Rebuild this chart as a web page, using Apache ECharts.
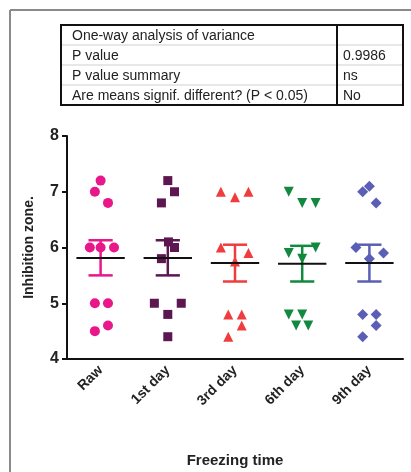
<!DOCTYPE html>
<html>
<head>
<meta charset="utf-8">
<script src="https://cdn.jsdelivr.net/npm/echarts@6/dist/echarts.min.js"></script>
<style>
  html, body { margin: 0; padding: 0; background: #fff; }
  #main { width: 411px; height: 472px; }
</style>
</head>
<body>
<div id="main"></div>
<script>
var categories = ['Raw', '1st day', '3rd day', '6th day', '9th day'];
var colors = ['#e8188a', '#5c1650', '#f03c3c', '#12893e', '#5a5fb5'];
var symbols = ['circle', 'rect', 'triangle', 'triangle', 'diamond'];
var symbolRotate = [0, 0, 0, 180, 0];
var symbolSizes = [10, 9, 10, 10, 11];

// inhibition zone values per group, and horizontal scatter offsets (category units)
var rawValues = [7.2, 7.0, 6.8, 6.0, 6.0, 6.0, 5.0, 5.0, 4.6, 4.5];
var rawOffsets = [0, -0.085, 0.11, -0.16, 0, 0.2, -0.085, 0.11, 0.11, -0.085];
var day1Values = [7.2, 7.0, 6.8, 6.1, 6.0, 5.8, 5.0, 5.0, 4.8, 4.4];
var day1Offsets = [0, 0.1, -0.095, 0.01, 0.1, -0.095, -0.2, 0.2, 0, 0];
var day3Values = [7.0, 6.9, 7.0, 6.0, 5.75, 5.9, 4.8, 4.8, 4.6, 4.4];
var day3Offsets = [-0.21, 0, 0.2, -0.21, 0, 0.2, -0.1, 0.1, 0.1, -0.1];
var day6Values = [7.0, 6.8, 6.8, 5.9, 5.8, 6.0, 4.8, 4.8, 4.6, 4.6];
var day6Offsets = [-0.2, 0, 0.2, -0.2, 0, 0.2, -0.2, 0, -0.09, 0.09];
var day9Values = [7.0, 7.1, 6.8, 6.0, 5.8, 5.9, 4.8, 4.8, 4.6, 4.4];
var day9Offsets = [-0.1, 0, 0.1, -0.2, 0, 0.21, -0.1, 0.1, 0.1, -0.1];

var means = [5.81, 5.81, 5.72, 5.71, 5.72];
var upper = [6.13, 6.13, 6.05, 6.03, 6.05];
var lower = [5.5, 5.5, 5.39, 5.39, 5.39];

var yTicks = [4, 5, 6, 7, 8];

var tableRows = [
  ['One-way analysis of variance', ''],
  ['P value', '0.9986'],
  ['P value summary', 'ns'],
  ['Are means signif. different? (P < 0.05)', 'No']
];

var groups = [
  [rawValues, rawOffsets],
  [day1Values, day1Offsets],
  [day3Values, day3Offsets],
  [day6Values, day6Offsets],
  [day9Values, day9Offsets]
];

var chartDom = document.getElementById('main');
var myChart = echarts.init(chartDom);

var font = 'Arial, "Liberation Sans", sans-serif';

// table graphics
var tLeft = 61, tRight = 403, tTop = 25, rowH = 20, tDiv = 337;
var graphic = [
  { type: 'line', shape: { x1: 10, y1: 10, x2: 411, y2: 10 }, style: { stroke: '#8a8a8a', lineWidth: 2 } },
  { type: 'line', shape: { x1: 10, y1: 10, x2: 10, y2: 472 }, style: { stroke: '#8a8a8a', lineWidth: 2 } }
];
tableRows.forEach(function (row, i) {
  var y = tTop + i * rowH;
  if (i > 0) {
    graphic.push({ type: 'line', shape: { x1: tLeft, y1: y, x2: tRight, y2: y }, style: { stroke: '#cfcfcf', lineWidth: 1 } });
  }
  graphic.push({ type: 'text', x: 72, y: y + rowH / 2 + 1, style: { text: row[0], font: '14px ' + font, fill: '#222', verticalAlign: 'middle' } });
  graphic.push({ type: 'text', x: 343, y: y + rowH / 2 + 1, style: { text: row[1], font: '14px ' + font, fill: '#222', verticalAlign: 'middle' } });
});
graphic.push({ type: 'rect', shape: { x: tLeft, y: tTop, width: tRight - tLeft, height: rowH * tableRows.length }, style: { fill: 'none', stroke: '#111', lineWidth: 2 } });
graphic.push({ type: 'line', shape: { x1: tDiv, y1: tTop, x2: tDiv, y2: tTop + rowH * tableRows.length }, style: { stroke: '#111', lineWidth: 2 } });

var series = [];
groups.forEach(function (g, ci) {
  series.push({
    type: 'scatter',
    xAxisIndex: 1,
    symbol: symbols[ci],
    symbolRotate: symbolRotate[ci],
    symbolSize: symbolSizes[ci],
    itemStyle: { color: colors[ci], opacity: 1 },
    z: 2,
    data: g[0].map(function (v, k) { return [ci + g[1][k], v]; })
  });
});

series.push({
  type: 'custom',
  xAxisIndex: 1,
  z: 3,
  data: categories.map(function (c, i) { return [i, means[i], lower[i], upper[i]]; }),
  renderItem: function (params, api) {
    var i = api.value(0);
    var unit = api.size([1, 0])[0];
    var top = api.coord([i, api.value(3)]);
    var bot = api.coord([i, api.value(2)]);
    var mid = api.coord([i, api.value(1)]);
    var cap = unit * 0.18;
    var half = unit * 0.36;
    var col = colors[params.dataIndex];
    return {
      type: 'group',
      children: [
        { type: 'line', shape: { x1: top[0], y1: top[1], x2: bot[0], y2: bot[1] }, style: { stroke: col, lineWidth: 2.5 } },
        { type: 'line', shape: { x1: top[0] - cap, y1: top[1], x2: top[0] + cap, y2: top[1] }, style: { stroke: col, lineWidth: 2.5 } },
        { type: 'line', shape: { x1: bot[0] - cap, y1: bot[1], x2: bot[0] + cap, y2: bot[1] }, style: { stroke: col, lineWidth: 2.5 } },
        { type: 'line', shape: { x1: mid[0] - half, y1: mid[1], x2: mid[0] + half, y2: mid[1] }, style: { stroke: '#111', lineWidth: 2 } }
      ]
    };
  }
});

var option = {
  backgroundColor: '#fff',
  animation: false,
  graphic: graphic,
  grid: { left: 67, right: 8, top: 136, bottom: 113, containLabel: false },
  xAxis: [
    {
      type: 'category',
      data: categories,
      name: 'Freezing time',
      nameLocation: 'middle',
      nameGap: 94,
      nameTextStyle: { fontFamily: font, fontWeight: 'bold', fontSize: 15, color: '#222' },
      axisLine: { onZero: false, lineStyle: { color: '#111', width: 2 } },
      axisTick: { alignWithLabel: true, length: 6, lineStyle: { color: '#111', width: 2 } },
      axisLabel: { rotate: 45, margin: 9, fontFamily: font, fontWeight: 'bold', fontSize: 14, color: '#222' },
      splitLine: { show: false }
    },
    {
      type: 'value',
      min: -0.5,
      max: 4.5,
      show: false
    }
  ],
  yAxis: {
    type: 'value',
    min: yTicks[0],
    max: yTicks[yTicks.length - 1],
    interval: 1,
    name: 'Inhibition zone.',
    nameLocation: 'middle',
    nameGap: 31,
    nameTextStyle: { fontFamily: font, fontWeight: 'bold', fontSize: 14, color: '#222' },
    axisLine: { show: true, onZero: false, lineStyle: { color: '#111', width: 2 } },
    axisTick: { show: true, length: 5, lineStyle: { color: '#111', width: 2 } },
    axisLabel: { margin: 8, fontFamily: font, fontWeight: 'bold', fontSize: 16, color: '#222' },
    splitLine: { show: false }
  },
  series: series
};

myChart.setOption(option);
</script>
</body>
</html>
